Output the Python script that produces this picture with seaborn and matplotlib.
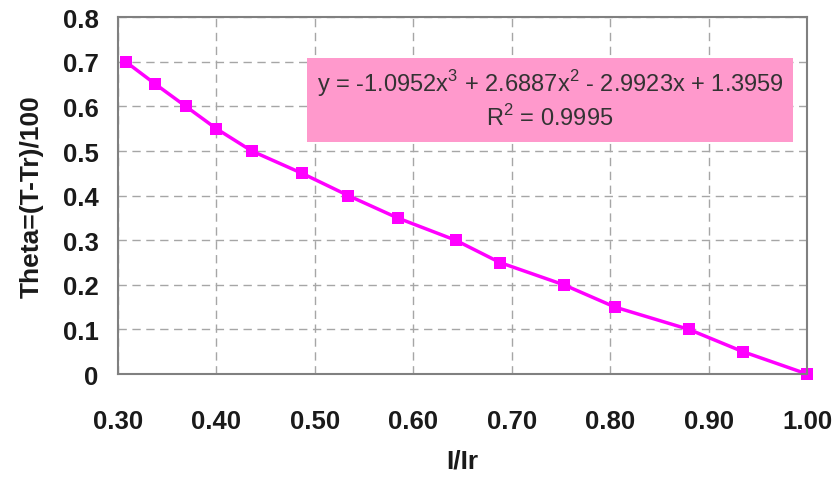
import numpy as np
import pandas as pd
import seaborn as sns
import matplotlib.pyplot as plt
from matplotlib.patches import Rectangle
from matplotlib.ticker import FuncFormatter

### Data.
ratio = [0.308, 0.338, 0.369, 0.400, 0.436, 0.487, 0.534, 0.584,
         0.643, 0.688, 0.753, 0.805, 0.880, 0.935, 1.000]
theta = [0.70, 0.65, 0.60, 0.55, 0.50, 0.45, 0.40, 0.35,
         0.30, 0.25, 0.20, 0.15, 0.10, 0.05, 0.00]
x_ticks = [0.30, 0.40, 0.50, 0.60, 0.70, 0.80, 0.90, 1.00]
y_ticks = [0, 0.1, 0.2, 0.3, 0.4, 0.5, 0.6, 0.7, 0.8]
fit_text = 'y = -1.0952x$^{\\mathregular{3}}$ + 2.6887x$^{\\mathregular{2}}$ - 2.9923x + 1.3959'
r2_text = 'R$^{\\mathregular{2}}$ = 0.9995'

df = pd.DataFrame({'I/Ir': ratio, 'Theta': theta})

### Style.
sns.set_style('white')
plt.rcParams['font.family'] = ['Liberation Sans', 'DejaVu Sans']

fig = plt.figure(figsize=(8.33, 4.85), dpi=100)
ax = fig.add_axes([0.1417, 0.2268, 0.8271, 0.7355])

### Curve with square markers.
sns.lineplot(x='I/Ir', y='Theta', data=df, ax=ax, color='#FF00FF',
             linewidth=2.5, marker='s', markersize=8, markeredgewidth=0)
for ln in ax.lines:
    ln.set_clip_on(False)

ax.set_xlim(0.30, 1.00)
ax.set_ylim(0, 0.8)
ax.set_xticks(x_ticks)
ax.set_yticks(y_ticks)
ax.xaxis.set_major_formatter(FuncFormatter(lambda v, p: '%.2f' % v))
ax.yaxis.set_major_formatter(FuncFormatter(lambda v, p: '0' if abs(v) < 1e-9 else '%.1f' % v))

ax.grid(True, linestyle=(0, (6, 4)), color='#A6A6A6', linewidth=1)
ax.set_axisbelow(True)
for s in ax.spines.values():
    s.set_color('#808080')
    s.set_linewidth(1.5)
ax.tick_params(axis='both', direction='in', length=7, width=1.2, color='#808080',
               labelsize=18.5, labelcolor='#1a1a1a')
ax.tick_params(axis='x', pad=25)
ax.tick_params(axis='y', pad=14)
for lab in ax.get_xticklabels() + ax.get_yticklabels():
    lab.set_fontweight('bold')

ax.set_xlabel('I/Ir', fontsize=19, fontweight='bold', color='#1a1a1a', labelpad=11)
ax.set_ylabel('Theta=(T-Tr)/100', fontsize=19, fontweight='bold', color='#1a1a1a', labelpad=14)

### Trendline label box.
ax.add_patch(Rectangle((0.2739, 0.6503), 0.7058, 0.2344, transform=ax.transAxes,
                       facecolor='#FF99CC', edgecolor='none', zorder=3))
ax.text(0.627, 0.818, fit_text, transform=ax.transAxes, ha='center', va='center',
        fontsize=17, color='#333333', zorder=4)
ax.text(0.627, 0.72, r2_text, transform=ax.transAxes, ha='center', va='center',
        fontsize=17, color='#333333', zorder=4)

fig.savefig('out.png', dpi=100)
